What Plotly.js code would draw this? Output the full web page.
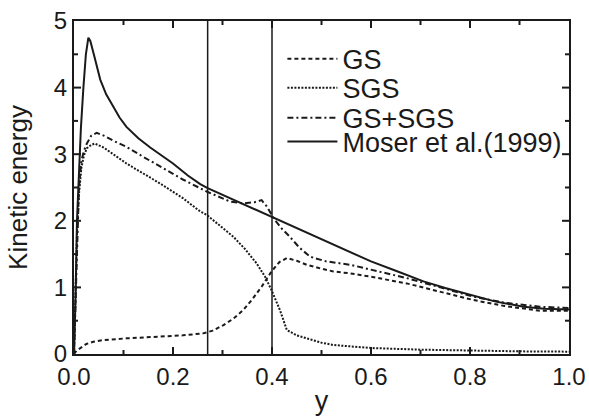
<!DOCTYPE html>
<html>
<head>
<meta charset="utf-8">
<script src="https://cdn.plot.ly/plotly-3.0.1.min.js"></script>
<style>html,body{margin:0;padding:0;background:#fff;}</style>
</head>
<body>
<div id="chart" style="width:589px;height:419px;"></div>
<script>
// ---- data ----
const gsX  = [0, 0.005, 0.012, 0.025, 0.039, 0.06, 0.106, 0.174, 0.22, 0.261, 0.28, 0.302, 0.322, 0.342, 0.36, 0.379, 0.399, 0.415, 0.43, 0.45, 0.47, 0.5, 0.524, 0.558, 0.6, 0.672, 0.74, 0.807, 0.87, 0.941, 1.0];
const gsY  = [0, 0.05, 0.085, 0.15, 0.185, 0.21, 0.235, 0.26, 0.28, 0.31, 0.35, 0.435, 0.53, 0.66, 0.82, 1.01, 1.24, 1.38, 1.44, 1.4, 1.34, 1.28, 1.24, 1.21, 1.16, 1.06, 0.94, 0.81, 0.72, 0.65, 0.65];

const sgsX = [0, 0.003, 0.006, 0.01, 0.015, 0.02, 0.026, 0.035, 0.042, 0.06, 0.08, 0.106, 0.14, 0.174, 0.22, 0.255, 0.268, 0.3, 0.322, 0.345, 0.369, 0.386, 0.399, 0.416, 0.43, 0.45, 0.47, 0.5, 0.524, 0.558, 0.6, 0.7, 0.8, 0.9, 1.0];
const sgsY = [0, 0.9, 1.8, 2.4, 2.8, 2.98, 3.09, 3.14, 3.16, 3.1, 3.0, 2.86, 2.71, 2.56, 2.34, 2.14, 2.09, 1.9, 1.76, 1.58, 1.36, 1.16, 0.96, 0.66, 0.36, 0.28, 0.24, 0.17, 0.135, 0.11, 0.09, 0.065, 0.05, 0.04, 0.035];

const totX = [0, 0.003, 0.006, 0.01, 0.015, 0.02, 0.026, 0.035, 0.046, 0.06, 0.08, 0.106, 0.14, 0.174, 0.22, 0.268, 0.3, 0.315, 0.342, 0.365, 0.379, 0.389, 0.406, 0.42, 0.436, 0.455, 0.477, 0.51, 0.558, 0.6, 0.672, 0.74, 0.807, 0.87, 0.941, 1.0];
const totY = [0, 0.8, 1.8, 2.5, 2.9, 3.05, 3.16, 3.28, 3.32, 3.28, 3.2, 3.11, 2.96, 2.81, 2.62, 2.44, 2.33, 2.29, 2.26, 2.28, 2.31, 2.22, 2.01, 1.88, 1.76, 1.6, 1.46, 1.39, 1.34, 1.27, 1.14, 1.0, 0.86, 0.77, 0.71, 0.69];

const moserX = [0, 0.003, 0.006, 0.01, 0.014, 0.019, 0.024, 0.029, 0.033, 0.04, 0.047, 0.053, 0.065, 0.079, 0.092, 0.106, 0.13, 0.154, 0.18, 0.2, 0.23, 0.255, 0.27, 0.3, 0.35, 0.4, 0.45, 0.5, 0.55, 0.6, 0.65, 0.706, 0.75, 0.8, 0.85, 0.908, 0.95, 1.0];
const moserY = [0, 0.8, 2.0, 2.8, 3.4, 4.0, 4.5, 4.75, 4.7, 4.5, 4.28, 4.12, 3.9, 3.71, 3.55, 3.41, 3.24, 3.1, 2.96, 2.86, 2.68, 2.55, 2.49, 2.39, 2.22, 2.06, 1.89, 1.72, 1.55, 1.39, 1.25, 1.09, 0.99, 0.886, 0.79, 0.71, 0.68, 0.67];

const seriesNames = ["GS", "SGS", "GS+SGS", "Moser et al.(1999)"];
const vlines = [0.27, 0.4];
const xTickVals = [0, 0.2, 0.4, 0.6, 0.8, 1.0];
const xTickText = ["0.0", "0.2", "0.4", "0.6", "0.8", "1.0"];
const xMinorVals = [0.1, 0.3, 0.5, 0.7, 0.9];
const yTickVals = [0, 1, 2, 3, 4, 5];
const yTickText = ["0", "1", "2", "3", "4", "5"];
const yMinorVals = [0.5, 1.5, 2.5, 3.5, 4.5];

// ---- styling ----
const ink = "#1a1a1a";
const FONT = "Liberation Sans, Arial, Helvetica, sans-serif";
const legTop = [0.959, 0.872, 0.782, 0.710];
const MAJ = 7, MIN = 4;

function tr(x, y, name, dash, leg) {
  return {x: x, y: y, name: name, type: "scatter", mode: "lines",
          line: {color: ink, width: 2, dash: dash}, legend: leg, hoverinfo: "skip"};
}

const data = [
  tr(gsX, gsY, seriesNames[0], "4px,3px", "legend"),
  tr(sgsX, sgsY, seriesNames[1], "2px,1.5px", "legend2"),
  tr(totX, totY, seriesNames[2], "6px,3px,2px,3px", "legend3"),
  tr(moserX, moserY, seriesNames[3], "solid", "legend4")
];

function leg(i) {
  return {x: 0.421, xanchor: "left", y: legTop[i], yanchor: "top",
          bgcolor: "rgba(0,0,0,0)", borderwidth: 0, itemwidth: 50,
          font: {family: FONT, size: 27, color: ink}, tracegroupgap: 0};
}

function axisBase() {
  return {
    showline: true, linecolor: ink, linewidth: 2, mirror: true,
    ticks: "", showgrid: false, zeroline: false,
    tickfont: {family: FONT, size: 24, color: ink}
  };
}

const xa = axisBase();
xa.range = [0, 1]; xa.tickmode = "array"; xa.tickvals = xTickVals; xa.ticktext = xTickText;
xa.title = {text: "y", font: {family: FONT, size: 27, color: ink}, standoff: 2};
const ya = axisBase();
ya.range = [0, 5]; ya.tickmode = "array"; ya.tickvals = yTickVals; ya.ticktext = yTickText;
ya.title = {text: "Kinetic energy", font: {family: FONT, size: 26, color: ink}, standoff: 19};

// tick marks on all four sides (inward), built from the tick arrays
const tickShapes = [];
function xTick(v, len) {
  tickShapes.push({type: "line", xref: "x", yref: "paper", ysizemode: "pixel", yanchor: 0,
                   x0: v, x1: v, y0: 0, y1: len, line: {color: ink, width: 2}});
  tickShapes.push({type: "line", xref: "x", yref: "paper", ysizemode: "pixel", yanchor: 1,
                   x0: v, x1: v, y0: 0, y1: -len, line: {color: ink, width: 2}});
}
function yTick(v, len) {
  tickShapes.push({type: "line", yref: "y", xref: "paper", xsizemode: "pixel", xanchor: 0,
                   y0: v, y1: v, x0: 0, x1: len, line: {color: ink, width: 2}});
  tickShapes.push({type: "line", yref: "y", xref: "paper", xsizemode: "pixel", xanchor: 1,
                   y0: v, y1: v, x0: 0, x1: -len, line: {color: ink, width: 2}});
}
xTickVals.slice(1, -1).forEach(v => xTick(v, MAJ));
xMinorVals.forEach(v => xTick(v, MIN));
yTickVals.slice(1, -1).forEach(v => yTick(v, MAJ));
yMinorVals.forEach(v => yTick(v, MIN));

const lineShapes = vlines.map(v => ({type: "line", xref: "x", yref: "paper", x0: v, x1: v, y0: 0, y1: 1,
                                     line: {color: ink, width: 1.5}}));

const layout = {
  width: 589, height: 419,
  margin: {l: 74, r: 20, t: 21, b: 65},
  paper_bgcolor: "#fff", plot_bgcolor: "#fff",
  showlegend: true,
  legend: leg(0), legend2: leg(1), legend3: leg(2), legend4: leg(3),
  xaxis: xa, yaxis: ya,
  shapes: lineShapes.concat(tickShapes)
};

Plotly.newPlot("chart", data, layout, {displayModeBar: false});
</script>
</body>
</html>
